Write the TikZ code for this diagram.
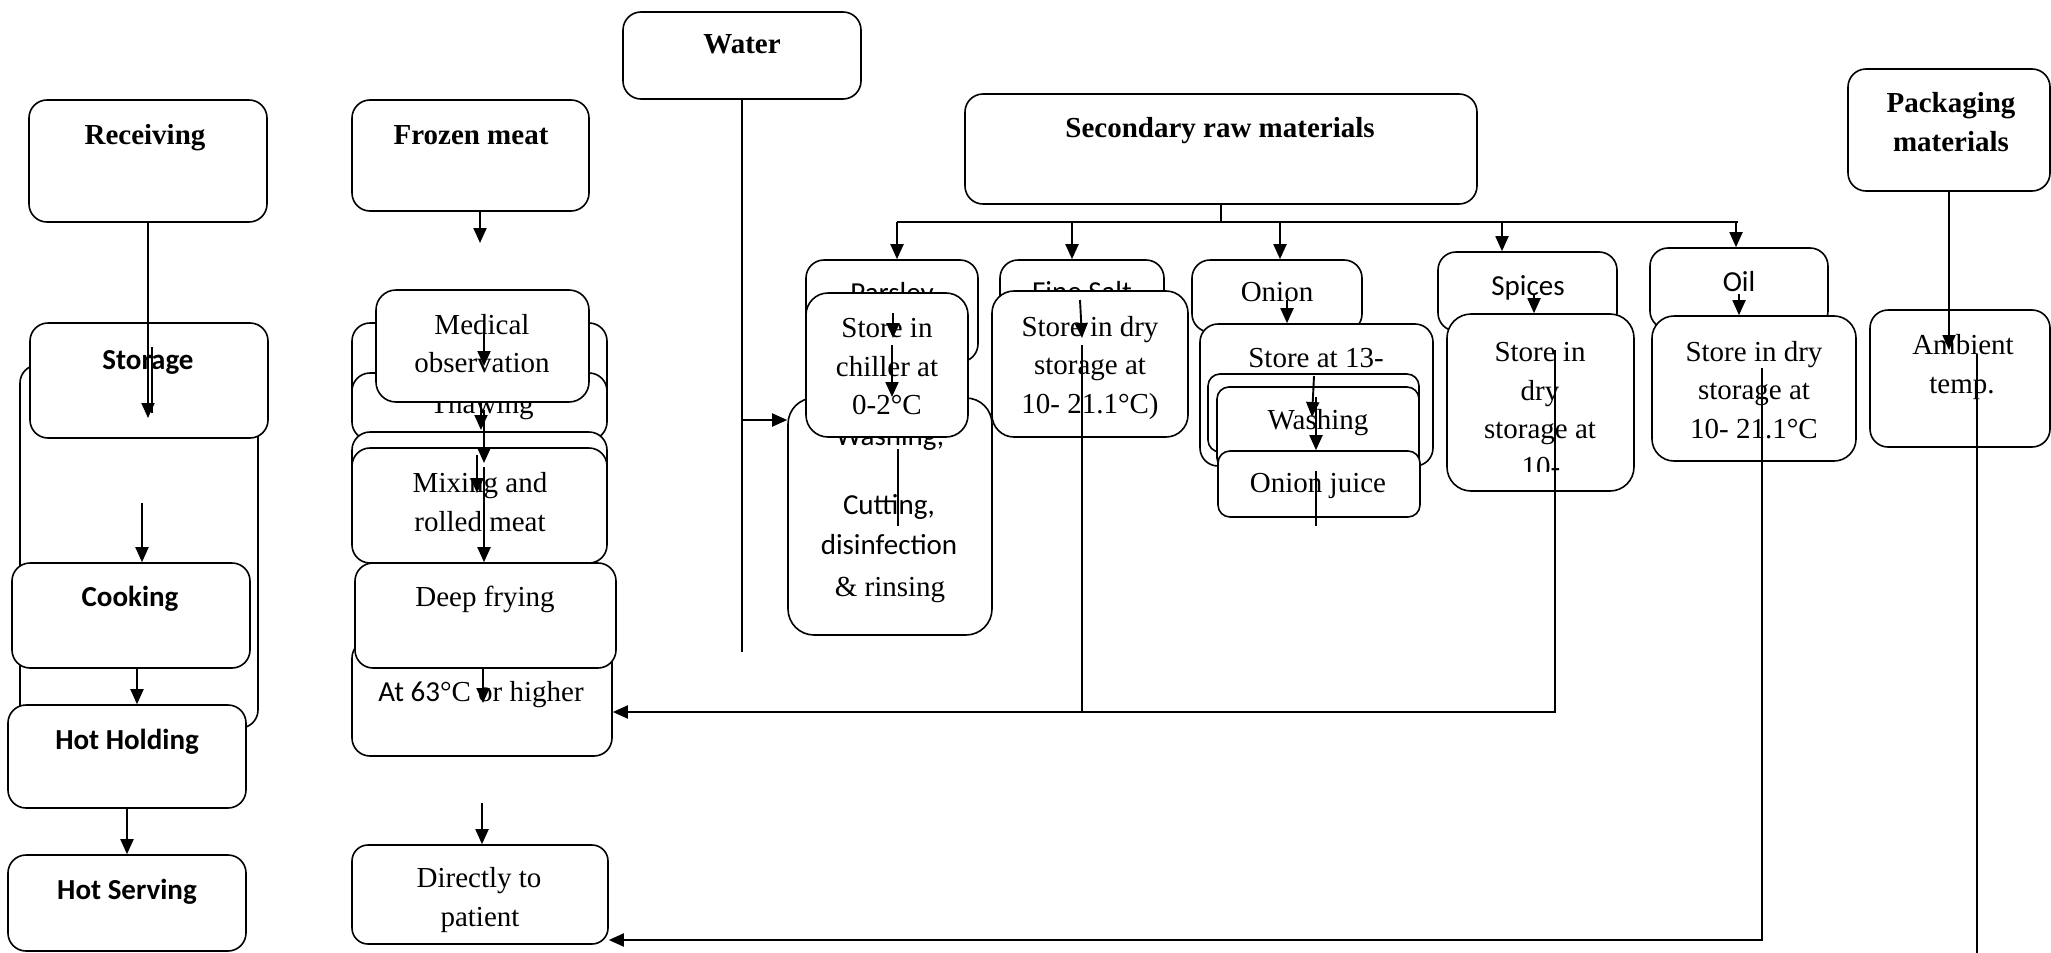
\documentclass[tikz,border=0pt]{standalone}
\usepackage{fontspec}
\setmainfont{Liberation Serif}
\setsansfont{Carlito}
\usetikzlibrary{arrows.meta,fit}
\newcommand\bx[6][]{\node[box,#1,fit={(#3,#4) (#5,#6)}] (#2) {};}
\newcommand\tx[5][rm]{\node[#1] (#2) at (#3,#4) {#5};}
\begin{document}
\begin{tikzpicture}[x=0.5pt,y=-0.5pt,
 box/.style={draw,fill=white,rounded corners=9pt,line width=0.8pt,inner sep=0pt},
 arr/.style={line width=0.95pt,-{Triangle[length=7.5pt,width=6.5pt]}},
 ln/.style={line width=0.95pt},
 thinln/.style={line width=0.6pt},
 rm/.style={anchor=base,yshift=-4.5pt,inner sep=0pt,font=\fontsize{14.5}{19}\selectfont},
 sf/.style={rm,font=\fontsize{14.5}{19}\selectfont\sffamily},
 bf/.style={rm,font=\fontsize{14.5}{19}\selectfont\bfseries},
 sfb/.style={rm,font=\fontsize{14.5}{19}\selectfont\sffamily\bfseries}]
\useasboundingbox (0,0) rectangle (2051,953);
\fill[white] (0,0) rectangle (2051,953);
% left column
\bx{bg}{20}{365}{258}{728}
\bx{storage}{30}{323}{268}{438}
\tx[sfb]{tstorage}{148}{360}{Storage}
\bx{cooking}{12}{563}{250}{668}
\tx[sfb]{tcooking}{130}{597}{Cooking}
\bx{hothold}{8}{705}{246}{808}
\tx[sfb]{thothold}{127}{740}{Hot Holding}
\bx{hotserv}{8}{855}{246}{951}
\tx[sfb]{thotserv}{127}{890}{Hot Serving}
\bx{receiving}{29}{100}{267}{222}
\tx[bf]{treceiving}{145}{135}{Receiving}
% middle column
\bx{frozen}{352}{100}{589}{211}
\tx[bf]{tfrozen}{471}{135}{Frozen meat}
\bx{boxA}{352}{323}{607}{420}
\bx{thaw}{352}{373}{607}{440}
\tx{tthaw}{482}{404}{Thawing}
\bx{boxC}{352}{432}{607}{540}
\bx{mix}{352}{448}{607}{563}
\tx{tmix1}{480}{483}{Mixing and}
\tx{tmix2}{480}{522}{rolled meat}
\bx[rounded corners=10pt]{medical}{376}{290}{589}{402}
\tx{tmed1}{482}{325}{Medical}
\tx{tmed2}{482}{363}{observation}
\bx{at63}{352}{640}{612}{756}
\tx{tat63}{481}{692}{{\sffamily At 63}°C or higher}
\bx{deep}{355}{563}{616}{668}
\tx{tdeep}{485}{597}{Deep frying}
\bx[rounded corners=8pt]{direct}{352}{845}{608}{944}
\tx{tdir1}{479}{878}{Directly to}
\tx{tdir2}{480}{917}{patient}
% water and secondary
\bx{water}{623}{12}{861}{99}
\tx[bf]{twater}{742}{45}{Water}
\bx{secondary}{965}{94}{1477}{204}
\tx[bf]{tsec}{1220}{128}{Secondary raw materials}
% parsley
\bx{parsley}{806}{260}{978}{362}
\tx[sf]{tparsley}{892}{293}{Parsley}
\bx[rounded corners=13pt]{cutting}{788}{398}{992}{635}
\tx[sf]{tcut0}{890}{436}{Washing,}
\tx[sf]{tcut1}{889}{505}{Cutting,}
\tx[sf]{tcut2}{889}{545}{disinfection}
\tx{tcut3}{890}{587}{\&\ rinsing}
\bx[rounded corners=11pt]{chiller}{806}{293}{968}{437}
\tx{tch1}{887}{328}{Store in}
\tx{tch2}{887}{367}{chiller at}
\tx{tch3}{887}{405}{0-2°C}
% fine salt
\bx{finesalt}{1000}{260}{1164}{330}
\tx[sf]{tfine}{1082}{292}{Fine Salt}
\bx[rounded corners=11pt]{storedry}{992}{291}{1188}{437}
\tx{tsd1}{1090}{327}{Store in dry}
\tx{tsd2}{1090}{365}{storage at}
\tx{tsd3}{1090}{404}{10- 21.1°C)}
% onion
\bx{onion}{1192}{260}{1362}{332}
\tx{tonion}{1277}{292}{Onion}
\bx{store13}{1200}{324}{1433}{466}
\tx{tst13}{1316}{358}{Store at 13-}
\bx[rounded corners=6pt]{inner1}{1208}{374}{1419}{452}
\bx[rounded corners=6pt]{washing}{1217}{387}{1419}{470}
\tx{twash}{1318}{420}{Washing}
\bx[rounded corners=6pt]{onionjuice}{1218}{451}{1420}{517}
\tx{tjuice}{1318}{483}{Onion juice}
% spices
\bx{spices}{1438}{252}{1617}{331}
\tx[sf]{tspices}{1528}{286}{Spices}
\bx[rounded corners=12pt]{spstore}{1447}{314}{1634}{491}
\tx{tsp1}{1540}{352}{Store in}
\tx{tsp2}{1540}{391}{dry}
\tx{tsp3}{1540}{429}{storage at}
\begin{scope}
\clip (1447,314) rectangle (1634,471);
\tx{tsp4}{1541}{467}{10-}
\end{scope}
% oil
\bx{oil}{1650}{248}{1828}{329}
\tx[sf]{toil}{1739}{282}{Oil}
\bx[rounded corners=11pt]{oilstore}{1652}{316}{1856}{461}
\tx{toil1}{1754}{352}{Store in dry}
\tx{toil2}{1754}{390}{storage at}
\tx{toil3}{1754}{429}{10- 21.1°C}
% packaging
\bx{packaging}{1848}{69}{2050}{191}
\tx[bf]{tpack1}{1951}{103}{Packaging}
\tx[bf]{tpack2}{1951}{142}{materials}
\bx{ambient}{1870}{310}{2050}{447}
\tx{tamb1}{1963}{345}{Ambient}
\tx{tamb2}{1962}{384}{temp.}
% ---------- connectors ----------
\coordinate (rA) at (148,418);
\draw[arr] (receiving.south) -- (rA);
\coordinate (rB1) at (152,347); \coordinate (rB2) at (152,413);
\draw[ln] (rB1) -- (rB2);
\coordinate (ck) at (142,503);
\draw[arr] (ck) -- (ck |- cooking.north);
\coordinate (ch) at (137,668);
\draw[arr] (ch) -- (ch |- hothold.north);
\draw[arr] (hothold.south) -- (hotserv.north);
\coordinate (fz1) at (480,211); \coordinate (fz2) at (480,243);
\draw[arr] (fz1) -- (fz2);
\coordinate (m1a) at (484,320); \coordinate (m1b) at (484,366);
\draw[arr] (m1a) -- (m1b);
\coordinate (m2a) at (481,402); \coordinate (m2b) at (481,430);
\draw[arr] (m2a) -- (m2b);
\coordinate (m3a) at (484,410); \coordinate (m3b) at (484,463);
\draw[arr] (m3a) -- (m3b);
\coordinate (m4a) at (477,455); \coordinate (m4b) at (477,493);
\draw[arr] (m4a) -- (m4b);
\coordinate (m5a) at (484,467);
\draw[arr] (m5a) -- (m5a |- deep.north);
\coordinate (m6a) at (483,668); \coordinate (m6b) at (483,703);
\draw[arr] (m6a) -- (m6b);
\coordinate (m7a) at (482,803);
\draw[arr] (m7a) -- (m7a |- direct.north);
% water
\coordinate (wend) at (742,652);
\draw[thinln] (water.south) -- (wend);
\coordinate (wj) at (742,420);
\draw[arr] (wj) -- (wj -| cutting.west);
% secondary branches
\coordinate (sj) at (1221,222);
\draw[ln] (secondary.south) -- (sj);
\coordinate (hl) at (897,222); \coordinate (hr) at (1738,222);
\draw[ln] (hl) -- (hr);
\draw[arr] (hl) -- (hl |- parsley.north);
\coordinate (h2) at (1072,222);
\draw[arr] (h2) -- (h2 |- finesalt.north);
\coordinate (h3) at (1280,222);
\draw[arr] (h3) -- (h3 |- onion.north);
\coordinate (h4) at (1502,222);
\draw[arr] (h4) -- (h4 |- spices.north);
\coordinate (h5) at (1736,222);
\draw[arr] (h5) -- (h5 |- oil.north);
% parsley arrows
\coordinate (p1a) at (893,313); \coordinate (p1b) at (893,338);
\draw[arr] (p1a) -- (p1b);
\coordinate (p2a) at (892,345); \coordinate (p2b) at (892,397);
\draw[arr] (p2a) -- (p2b);
\coordinate (p3a) at (898,449); \coordinate (p3b) at (898,526);
\draw[thinln] (p3a) -- (p3b);
% fine salt
\coordinate (fa) at (1080,300); \coordinate (fb) at (1082,338);
\draw[arr] (fa) -- (fb);
\coordinate (fs1) at (1082,345); \coordinate (fs2) at (1082,712);
\draw[ln] (fs1) -- (fs2);
% onion
\coordinate (o1) at (1287,300);
\draw[arr] (o1) -- (o1 |- store13.north);
\coordinate (o2a) at (1314,376); \coordinate (o2b) at (1312,417);
\draw[arr] (o2a) -- (o2b);
\coordinate (o3a) at (1316,397);
\draw[arr] (o3a) -- (o3a |- onionjuice.north);
\coordinate (o4a) at (1316,471); \coordinate (o4b) at (1316,526);
\draw[thinln] (o4a) -- (o4b);
% spices
\coordinate (s1) at (1534,295);
\draw[arr] (s1) -- (s1 |- spstore.north);
\coordinate (sp1) at (1555,350); \coordinate (sp2) at (1555,712);
\draw[arr] (sp1) -- (sp2) -- (sp2 -| at63.east);
% oil
\coordinate (oi1) at (1739,294);
\draw[arr] (oi1) -- (oi1 |- oilstore.north);
\coordinate (ol1) at (1762,368); \coordinate (ol2) at (1762,940);
\draw[arr] (ol1) -- (ol2) -- (ol2 -| direct.east);
% packaging
\coordinate (pk) at (1949,350);
\draw[arr] (packaging.south) -- (pk);
\coordinate (am1) at (1977,354); \coordinate (am2) at (1977,953);
\draw[ln] (am1) -- (am2);
\end{tikzpicture}
\end{document}
